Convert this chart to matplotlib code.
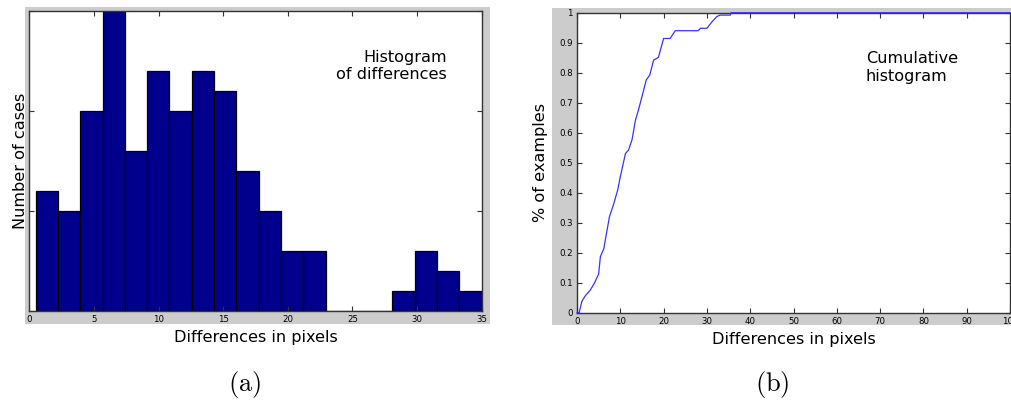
import matplotlib
matplotlib.use("Agg")
import matplotlib.pyplot as plt
from matplotlib.patches import Rectangle
import numpy as np

# Histogram of pixel differences: 20 equal bins between the min and max difference
bin_lo = 0.49
bin_hi = 35.0
bin_counts = [6, 5, 10, 15, 8, 12, 10, 12, 11, 7, 5, 3, 3, 0, 0, 0, 1, 3, 2, 1]

# Cumulative fraction of examples versus difference in pixels
cdf_x = [0, 0.5, 1.1, 1.9, 3.1, 4.0, 5.0, 5.4, 6.2, 6.8, 7.5, 8.5, 9.4, 10.0,
         11.2, 11.9, 12.7, 13.5, 14.2, 15.0, 16.0, 16.8, 17.7, 18.8, 20.0,
         21.5, 22.7, 28.0, 28.5, 30.0, 31.2, 32.3, 33.0, 35.4, 35.6, 100]
cdf_y = [0, 0.0, 0.037, 0.056, 0.076, 0.098, 0.129, 0.187, 0.214, 0.264, 0.32,
         0.364, 0.409, 0.453, 0.531, 0.542, 0.576, 0.642, 0.676, 0.72, 0.776,
         0.792, 0.842, 0.851, 0.914, 0.914, 0.94, 0.94, 0.948, 0.948, 0.97,
         0.987, 0.992, 0.992, 1.0, 1.0]

hist_xticks = [0, 5, 10, 15, 20, 25, 30, 35]
cdf_xticks = [0, 10, 20, 30, 40, 50, 60, 70, 80, 90, 100]
cdf_yticks = [0, 0.1, 0.2, 0.3, 0.4, 0.5, 0.6, 0.7, 0.8, 0.9, 1]
cdf_yticklabels = ["0", "0.1", "0.2", "0.3", "0.4", "0.5", "0.6", "0.7", "0.8", "0.9", "1"]

W, H = 1011, 401
fig = plt.figure(figsize=(W / 100, H / 100), dpi=100)
fig.patch.set_facecolor("white")
plt.rcParams["mathtext.fontset"] = "cm"

GRAY = "#cccccc"
SPINE = "#333333"
LABEL_FS = 11.6
TICK_FS = 6.2


def px_rect(x0, y0, x1, y1):
    """Figure-fraction rectangle from pixel corners (origin top-left)."""
    return [x0 / W, 1 - y1 / H, (x1 - x0) / W, (y1 - y0) / H]


# light gray frames behind each plot
for (x0, y0, x1, y1) in [(25, 7, 490, 324), (552, 8, 1011, 325)]:
    l, b, w, h = px_rect(x0, y0, x1, y1)
    fig.patches.append(Rectangle((l, b), w, h, transform=fig.transFigure,
                                 facecolor=GRAY, edgecolor="none", zorder=-5))


def style_axes(ax):
    ax.set_facecolor("white")
    ax.set_zorder(2)
    for s in ax.spines.values():
        s.set_color(SPINE)
        s.set_linewidth(1.0)
    ax.tick_params(direction="in", length=3.5, width=0.8, color=SPINE,
                   top=True, right=True, labelsize=TICK_FS, pad=3.2)


# (a) histogram
ax1 = fig.add_axes(px_rect(29.3, 11, 481.7, 311))
style_axes(ax1)
edges = np.linspace(bin_lo, bin_hi, len(bin_counts) + 1)
centers = 0.5 * (edges[:-1] + edges[1:])
ax1.hist(centers, bins=edges, weights=bin_counts, color="#00008c",
         edgecolor="black", linewidth=0.9)
ax1.set_xlim(0, 35)
ax1.set_ylim(0, 15)
ax1.set_xticks(hist_xticks)
ax1.set_yticks([0, 5, 10, 15])
ax1.set_yticklabels([])
ax1.set_xlabel("Differences in pixels", fontsize=LABEL_FS, va="top")
ax1.xaxis.set_label_coords(0.5, -0.063)
ax1.set_ylabel("Number of cases", fontsize=LABEL_FS)
ax1.yaxis.set_label_coords(-0.002, 0.5)
ax1.text(0.923, 0.87, "Histogram\nof differences", transform=ax1.transAxes,
         ha="right", va="top", multialignment="right", fontsize=LABEL_FS)

# (b) cumulative histogram
ax2 = fig.add_axes(px_rect(577, 12.7, 1010, 312.7))
style_axes(ax2)
ax2.plot(cdf_x, cdf_y, color="#3333ff", linewidth=0.9, clip_on=False, zorder=3)
ax2.set_xlim(0, 100)
ax2.set_ylim(0, 1)
ax2.set_xticks(cdf_xticks)
ax2.set_yticks(cdf_yticks)
ax2.set_yticklabels(cdf_yticklabels)
ax2.set_xlabel("Differences in pixels", fontsize=LABEL_FS, va="top")
ax2.xaxis.set_label_coords(0.5, -0.063)
ax2.set_ylabel("% of examples", fontsize=LABEL_FS)
ax2.yaxis.set_label_coords(-0.066, 0.5)
ax2.text(0.667, 0.871, "Cumulative\nhistogram", transform=ax2.transAxes,
         ha="left", va="top", multialignment="left", fontsize=LABEL_FS)

# sub-figure captions
fig.text(245 / W, 1 - 385 / H, r"$\mathrm{(a)}$", fontsize=19, ha="center", va="center")
fig.text(772 / W, 1 - 385 / H, r"$\mathrm{(b)}$", fontsize=19, ha="center", va="center")

fig.savefig("out.png", dpi=100)
